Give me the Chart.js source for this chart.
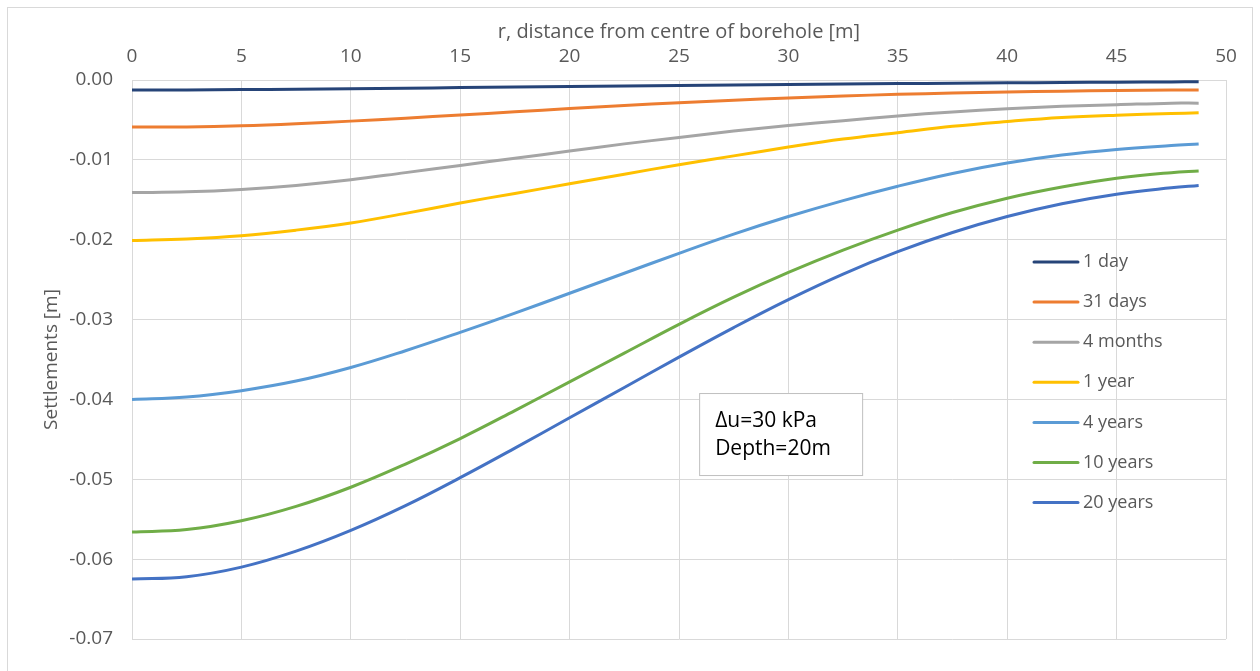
<!DOCTYPE html>
<html>
<head>
<meta charset="utf-8">
<script src="https://cdn.jsdelivr.net/npm/chart.js@4"></script>
<style>
  html, body { margin: 0; padding: 0; background: #fff; }
  #frame { position: absolute; left: 7px; top: 7px; width: 1246px; height: 680px; border: 1px solid #d9d9d9; box-sizing: border-box; }
  #wrap { position: absolute; left: 0; top: 0; width: 1260px; height: 671px; }
</style>
</head>
<body>
<div id="frame"></div>
<div id="wrap"><canvas id="chartSettlements"></canvas></div>
<script>
// r [m] sample positions
const radius = [0, 2.5, 5, 7.5, 10, 12.5, 15, 17.5, 20, 22.5, 25, 27.5, 30, 32.5, 35, 37.5, 40, 42.5, 45, 47.5, 48.75];

const seriesNames = ["1 day", "31 days", "4 months", "1 year", "4 years", "10 years", "20 years"];
const seriesColors = ["#264478", "#ED7D31", "#A5A5A5", "#FFC000", "#5B9BD5", "#70AD47", "#4472C4"];

// settlements [m]
const oneDay  = [-0.00125, -0.00124, -0.0012, -0.00115, -0.0011, -0.00103, -0.00095, -0.00088, -0.0008, -0.00074, -0.00068, -0.00062, -0.00056, -0.0005, -0.00045, -0.0004, -0.00035, -0.00031, -0.00027, -0.00024, -0.00023];
const days31  = [-0.0059, -0.00587, -0.00573, -0.00548, -0.00515, -0.00478, -0.00438, -0.00398, -0.00358, -0.0032, -0.00285, -0.00253, -0.00225, -0.002, -0.0018, -0.00163, -0.0015, -0.0014, -0.00132, -0.00126, -0.00124];
const months4 = [-0.0141, -0.0140, -0.0137, -0.0132, -0.0125, -0.0116, -0.0107, -0.0098, -0.0089, -0.0080, -0.0072, -0.0064, -0.0057, -0.0051, -0.0045, -0.0040, -0.0036, -0.0033, -0.0031, -0.0029, -0.0029];
const year1   = [-0.0201, -0.0199, -0.0195, -0.0188, -0.0179, -0.0167, -0.0154, -0.0142, -0.0130, -0.0118, -0.0106, -0.0095, -0.0084, -0.0074, -0.0066, -0.0058, -0.0052, -0.0047, -0.0044, -0.0042, -0.0041];
const years4  = [-0.0400, -0.0397, -0.0389, -0.0377, -0.0360, -0.0339, -0.0316, -0.0292, -0.0267, -0.0242, -0.0217, -0.0193, -0.0171, -0.0151, -0.0133, -0.0117, -0.0104, -0.0094, -0.0087, -0.0082, -0.0080];
const years10 = [-0.0566, -0.0563, -0.0552, -0.0534, -0.0510, -0.0481, -0.0449, -0.0414, -0.0378, -0.0342, -0.0306, -0.0272, -0.0241, -0.0213, -0.0188, -0.0166, -0.0148, -0.0134, -0.0123, -0.0116, -0.0114];
const years20 = [-0.0625, -0.0622, -0.0610, -0.0590, -0.0564, -0.0533, -0.0498, -0.0461, -0.0423, -0.0385, -0.0347, -0.0310, -0.0275, -0.0243, -0.0215, -0.0191, -0.0171, -0.0155, -0.0143, -0.0135, -0.0132];

const allSeries = [oneDay, days31, months4, year1, years4, years10, years20];
const noteLines = ["\u0394u=30 kPa", "Depth=20m"];

const FONT = "'Open Sans', 'Noto Sans', sans-serif";
const GRID = "#d9d9d9";
const TEXT = "#595959";

const overlayPlugin = {
  id: "overlay",
  afterDraw(chart) {
    const { ctx } = chart;
    const xs = chart.scales.x;
    const ys = chart.scales.y;
    ctx.save();

    // legend
    ctx.font = "18px " + FONT;
    ctx.textBaseline = "middle";
    ctx.textAlign = "left";
    seriesNames.forEach((name, i) => {
      const y = 262 + i * 40.1;
      ctx.strokeStyle = seriesColors[i];
      ctx.lineWidth = 3;
      ctx.lineCap = "round";
      ctx.beginPath();
      ctx.moveTo(1034, y);
      ctx.lineTo(1078, y);
      ctx.stroke();
      ctx.fillStyle = TEXT;
      ctx.fillText(name, 1083, y);
    });

    // note box
    const bx = xs.getPixelForValue(25.92);
    const by = ys.getPixelForValue(-0.0392);
    ctx.fillStyle = "#fff";
    ctx.fillRect(bx, by, 163, 82);
    ctx.strokeStyle = "#bfbfbf";
    ctx.lineWidth = 1;
    ctx.strokeRect(bx + 0.5, by + 0.5, 163, 82);
    ctx.fillStyle = "#000";
    ctx.font = "21px " + FONT;
    noteLines.forEach((line, i) => ctx.fillText(line, bx + 16, by + 28 + i * 28));
    ctx.restore();
  }
};

new Chart(document.getElementById("chartSettlements"), {
  type: "line",
  data: {
    datasets: allSeries.map((values, i) => ({
      label: seriesNames[i],
      data: values.map((v, j) => ({ x: radius[j], y: v })),
      borderColor: seriesColors[i],
      backgroundColor: seriesColors[i],
      borderWidth: 3,
      pointRadius: 0,
      tension: 0.4,
      fill: false
    }))
  },
  options: {
    responsive: true,
    maintainAspectRatio: false,
    animation: false,
    layout: { padding: { left: 40, right: 34, top: 20, bottom: 32 } },
    plugins: {
      legend: { display: false },
      tooltip: { enabled: false }
    },
    scales: {
      x: {
        type: "linear",
        position: "top",
        min: 0,
        max: 50,
        ticks: { stepSize: 5, color: TEXT, font: { family: FONT, size: 19 }, padding: 12 },
        grid: { color: GRID, drawTicks: false },
        border: { color: GRID },
        title: { display: true, text: "r, distance from centre of borehole [m]", color: TEXT, font: { family: FONT, size: 20 }, padding: { top: 0, bottom: 0 } },
        afterFit(scale) { scale.height = 60; }
      },
      y: {
        min: -0.07,
        max: 0,
        ticks: {
          stepSize: 0.01,
          color: TEXT,
          font: { family: FONT, size: 19 },
          padding: 19,
          callback: (v) => Number(v).toFixed(2)
        },
        grid: { color: GRID, drawTicks: false },
        border: { color: GRID },
        title: { display: true, text: "Settlements [m]", color: TEXT, font: { family: FONT, size: 19 }, padding: { top: 0, bottom: 0 } },
        afterFit(scale) { scale.width = 92; }
      }
    }
  },
  plugins: [overlayPlugin]
});
</script>
</body>
</html>
